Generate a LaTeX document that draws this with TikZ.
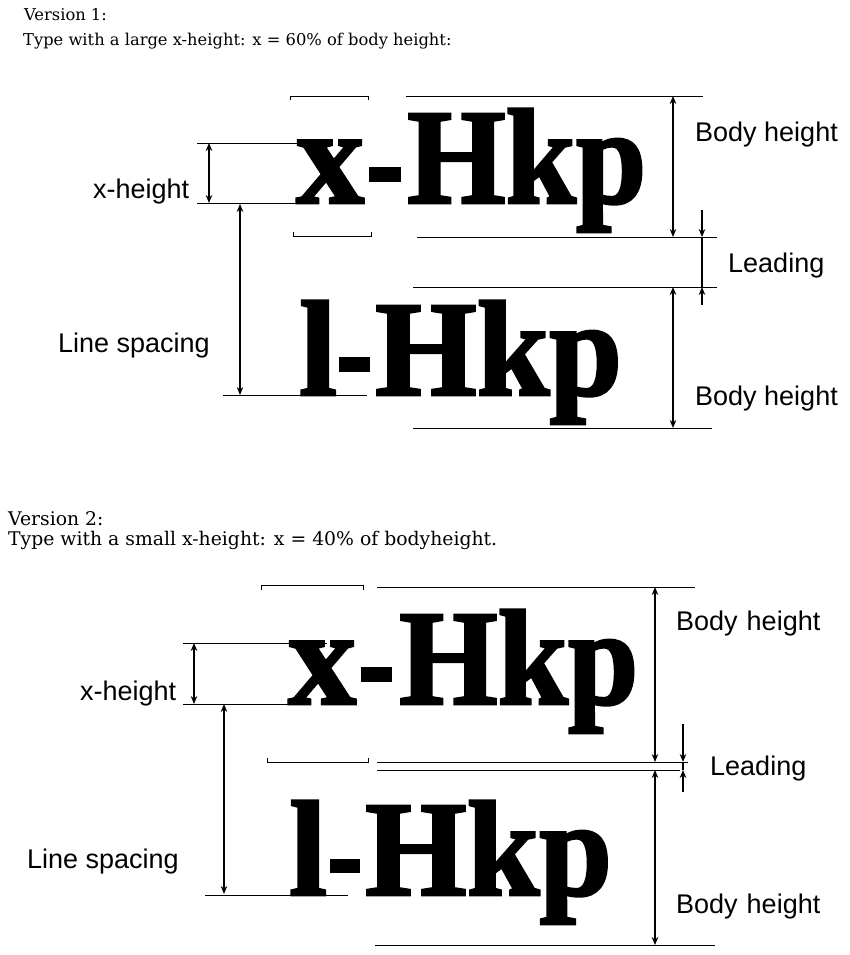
\documentclass[tikz,border=0pt]{standalone}
\usepackage{fontspec}
\usepackage{graphicx}
\setmainfont{Liberation Serif}
\setsansfont{Liberation Sans}
\newfontfamily\headfont{DejaVu Serif}
\newfontfamily\typefont{Liberation Serif}[FakeBold=2]
\usetikzlibrary{arrows.meta}
\begin{document}
\begin{tikzpicture}[x=1pt,y=-1pt,
  thinline/.style={line width=0.9pt},
  dim/.style={line width=1.8pt,{Stealth[length=8pt,width=6.5pt]}-{Stealth[length=8pt,width=6.5pt]}},
  tipline/.style={line width=1.6pt,-{Stealth[length=8pt,width=6.5pt]}},
  lbl/.style={font=\sffamily\fontsize{27}{30}\selectfont, inner sep=0pt, anchor=base west},
  headA/.style={font=\headfont\fontsize{16.3}{19}\selectfont, inner sep=0pt, anchor=base west},
  headB/.style={font=\headfont\fontsize{18.8}{21}\selectfont, inner sep=0pt, anchor=base west},
  big/.style={font=\typefont\bfseries\fontsize{136}{136}\selectfont, inner sep=0pt, anchor=base west},
  hyph/.style={fill=black}]
\useasboundingbox (0,0) rectangle (850,955);
\fill[white] (0,0) rectangle (850,955);
% ---------------- Version 1 ----------------
\node[headA] (v1a) at (24,21) {Version 1:};
\node[headA] (v1b) at (23,46) {Type with a large x-height: x = 60\% of body height:};
\node[big] (v1x) at (296,203) {x};
\fill[hyph] (369,167) rectangle (401,182);
\node[big] (v1H) at (407,203) {\scalebox{0.93}[1]{Hkp}};
\node[big] (v1l) at (299,395) {l};
\fill[hyph] (339,357) rectangle (370,372);
\node[big] (v1H2) at (375,395) {\scalebox{0.96}[1]{Hkp}};
% guide lines
\draw[thinline] (290,100) -- (290,96) -- (368,96) -- (368,100);
\draw[thinline] (293,232) -- (293,236) -- (371,236) -- (371,232);
\draw[thinline] (406,96) -- (703,96);
\draw[thinline] (197,143) -- (300,143);
\draw[thinline] (197,203) -- (300,203);
\draw[thinline] (417,237) -- (717,237);
\draw[thinline] (413,287) -- (717,287);
\draw[thinline] (223,395) -- (367,395);
\draw[thinline] (413,428) -- (712,428);
% dimension arrows
\coordinate (a1t) at (209,143); \coordinate (a1b) at (209,203);
\coordinate (a2t) at (240,204); \coordinate (a2b) at (240,395);
\coordinate (a3t) at (673,96);  \coordinate (a3b) at (673,237);
\coordinate (a4t) at (673,287); \coordinate (a4b) at (673,428);
\coordinate (l1s) at (702,210); \coordinate (l1e) at (702,237);
\coordinate (l2s) at (702,305); \coordinate (l2e) at (702,287);
\draw[dim] (a1t) -- (a1b);
\draw[dim] (a2t) -- (a2b);
\draw[dim] (a3t) -- (a3b);
\draw[dim] (a4t) -- (a4b);
\draw[tipline] (l1s) -- (l1e);
\draw[tipline] (l2s) -- (l2e);
\draw[line width=1.6pt] (l1e) -- (l2e);
\node[lbl] (v1xh) at (93,198) {x-height};
\node[lbl] (v1ls) at (58,352) {Line spacing};
\node[lbl] (v1bh1) at (695,142) {Body height};
\node[lbl] (v1ld) at (728,272) {Leading};
\node[lbl] (v1bh2) at (695,405) {Body height};
% ---------------- Version 2 ----------------
\node[headB] (v2a) at (8,525) {Version 2:};
\node[headB] (v2b) at (8,545) {Type with a small x-height: x = 40\% of bodyheight.};
\node[big] (v2x) at (288,704) {x};
\fill[hyph] (361,667) rectangle (392,682);
\node[big] (v2H) at (399,704) {\scalebox{0.93}[1]{Hkp}};
\node[big] (v2l) at (289,895) {l};
\fill[hyph] (330,859) rectangle (360,873);
\node[big] (v2H2) at (365,895) {\scalebox{0.96}[1]{Hkp}};
\draw[thinline] (261,590) -- (261,585) -- (363,585) -- (363,590);
\draw[thinline] (267,758) -- (267,762) -- (368,762) -- (368,758);
\draw[thinline] (377,587) -- (695,587);
\draw[thinline] (183,643) -- (327,643);
\draw[thinline] (183,704) -- (300,704);
\draw[thinline] (377,762) -- (688,762);
\draw[thinline] (377,770) -- (680,770);
\draw[thinline] (205,895) -- (348,895);
\draw[thinline] (375,945) -- (715,945);
\coordinate (b1t) at (194,643); \coordinate (b1b) at (194,704);
\coordinate (b2t) at (224,704); \coordinate (b2b) at (224,894);
\coordinate (b3t) at (655,587); \coordinate (b3b) at (655,762);
\coordinate (b4t) at (655,770); \coordinate (b4b) at (655,945);
\coordinate (m1s) at (683,724); \coordinate (m1e) at (683,762);
\coordinate (m2s) at (683,792); \coordinate (m2e) at (683,770);
\draw[dim] (b1t) -- (b1b);
\draw[dim] (b2t) -- (b2b);
\draw[dim] (b3t) -- (b3b);
\draw[dim] (b4t) -- (b4b);
\draw[tipline] (m1s) -- (m1e);
\draw[tipline] (m2s) -- (m2e);
\draw[line width=1.6pt] (m1e) -- (m2e);
\node[lbl] (v2xh) at (80,700) {x-height};
\node[lbl] (v2ls) at (27,868) {Line spacing};
\node[lbl] (v2bh1) at (676,630) {Body\,\,height};
\node[lbl] (v2ld) at (710,775) {Leading};
\node[lbl] (v2bh2) at (676,913) {Body\,\,height};
\end{tikzpicture}
\end{document}
